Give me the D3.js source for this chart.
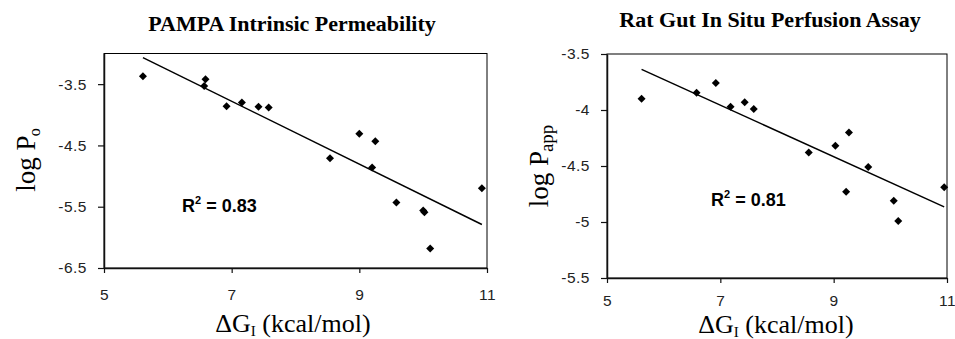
<!DOCTYPE html>
<html>
<head>
<meta charset="utf-8">
<script src="https://cdn.jsdelivr.net/npm/d3@7"></script>
<style>
  body { margin: 0; background: #fff; }
  .tick text { font-family: "Liberation Sans", Arial, sans-serif; font-size: 15.5px; fill: #222; letter-spacing: 0.5px; }
  .serif { font-family: "Liberation Serif", "Times New Roman", serif; fill: #000; }
</style>
</head>
<body>
<svg id="chart" width="955" height="339"></svg>
<script>
// PAMPA intrinsic permeability (left panel)
const pampaDG = [5.61, 6.59, 6.57, 6.92, 7.16, 7.42, 7.58, 8.54, 9.00, 9.20, 9.25, 9.58, 10.00, 10.02, 10.11, 10.92];
const pampaLogP = [-3.37, -3.42, -3.53, -3.86, -3.80, -3.87, -3.88, -4.71, -4.31, -4.86, -4.43, -5.43, -5.56, -5.59, -6.18, -5.20];

// rat gut in situ perfusion (right panel)
const ratDG = [5.61, 6.58, 6.92, 7.18, 7.43, 7.59, 8.56, 9.03, 9.22, 9.27, 9.61, 10.06, 10.14, 10.95];
const ratLogP = [-3.90, -3.845, -3.76, -3.97, -3.93, -3.99, -4.38, -4.32, -4.73, -4.20, -4.51, -4.81, -4.99, -4.69];

const xTicks = [5, 7, 9, 11];
const pampaYTicks = [-6.5, -5.5, -4.5, -3.5];
const ratYTicks = [-5.5, -5, -4.5, -4, -3.5];

const svg = d3.select("#chart");
svg.append("rect").attr("width", 955).attr("height", 339).attr("fill", "#fff");

// least squares fit, like the excel trendline
function fit(xs, ys) {
  const mx = d3.mean(xs), my = d3.mean(ys);
  const b = d3.sum(xs, (x, i) => (x - mx) * (ys[i] - my)) / d3.sum(xs, x => (x - mx) * (x - mx));
  return { b: b, a: my - b * mx };
}

function panel(opt) {
  const x = d3.scaleLinear().domain([5, 11]).range([opt.left, opt.right]);
  const y = d3.scaleLinear().domain(opt.yDomain).range([opt.bottom, opt.top]);
  const g = svg.append("g");

  // plot area border
  g.append("rect")
    .attr("x", opt.left).attr("y", opt.top)
    .attr("width", opt.right - opt.left).attr("height", opt.bottom - opt.top)
    .attr("fill", "none").attr("stroke", "#000").attr("stroke-width", 1);

  const xa = g.append("g")
    .attr("transform", `translate(0,${opt.bottom})`)
    .call(d3.axisBottom(x).tickValues(xTicks).tickSize(5).tickSizeOuter(0).tickPadding(opt.xPad).tickFormat(d => String(d)));
  const ya = g.append("g")
    .attr("transform", `translate(${opt.left},0)`)
    .call(d3.axisLeft(y).tickValues(opt.yTicks).tickSize(6).tickSizeOuter(0).tickPadding(11).tickFormat(d => String(d)));
  [xa, ya].forEach(a => {
    a.select(".domain").attr("stroke", "#111").attr("stroke-width", 1.5);
    a.selectAll(".tick line").attr("stroke", "#111").attr("stroke-width", 1.2);
  });

  // trendline across the data range
  const f = fit(opt.xs, opt.ys);
  const ext = d3.extent(opt.xs);
  g.append("path")
    .datum(ext)
    .attr("d", d3.line().x(d => x(d)).y(d => y(f.a + f.b * d)))
    .attr("fill", "none").attr("stroke", "#000").attr("stroke-width", 1.5);

  // diamonds
  const diamond = d3.symbol(d3.symbolSquare, 32);
  g.selectAll(".pt")
    .data(opt.xs.map((v, i) => [v, opt.ys[i]]))
    .enter().append("path")
    .attr("class", "pt")
    .attr("d", diamond)
    .attr("transform", d => `translate(${x(d[0])},${y(d[1])}) rotate(45)`)
    .attr("fill", "#000");

  // title
  g.append("text").attr("class", "serif")
    .attr("x", opt.titleX).attr("y", opt.titleY)
    .attr("text-anchor", "middle")
    .attr("font-size", 22).attr("font-weight", "bold")
    .text(opt.title);

  // r squared
  const r = g.append("text")
    .attr("x", opt.rX).attr("y", opt.rY)
    .attr("font-family", "Liberation Sans, Arial, sans-serif")
    .attr("font-size", 18).attr("font-weight", "bold").attr("fill", "#000");
  r.append("tspan").text("R");
  r.append("tspan").attr("font-size", 11).attr("dy", -8).text("2");
  r.append("tspan").attr("dy", 8).text(" = " + opt.r2);

  // x title
  const xt = g.append("text").attr("class", "serif")
    .attr("x", opt.xTitleX).attr("y", opt.xTitleY)
    .attr("text-anchor", "middle").attr("font-size", 26);
  xt.append("tspan").text("ΔG");
  xt.append("tspan").attr("font-size", 15).attr("dy", 4).text("I");
  xt.append("tspan").attr("dy", -4).text(" (kcal/mol)");

  // y title
  const yt = g.append("text").attr("class", "serif")
    .attr("transform", `translate(${opt.yTitleX},${opt.yTitleY}) rotate(-90)`)
    .attr("text-anchor", "middle").attr("font-size", 27);
  yt.append("tspan").text("log P");
  yt.append("tspan").attr("font-size", opt.subSize).attr("dx", -1).attr("dy", 5).text(opt.sub);
}

panel({
  xs: pampaDG, ys: pampaLogP,
  left: 104, right: 487, top: 53.5, bottom: 268,
  yDomain: [-6.5, -3], yTicks: pampaYTicks, xPad: 16,
  title: "PAMPA Intrinsic Permeability", titleX: 292, titleY: 31,
  r2: "0.83", rX: 182, rY: 212,
  xTitleX: 293, xTitleY: 332,
  yTitleX: 35, yTitleY: 160, sub: "o", subSize: 16
});

panel({
  xs: ratDG, ys: ratLogP,
  left: 607, right: 947, top: 54, bottom: 278,
  yDomain: [-5.5, -3.5], yTicks: ratYTicks, xPad: 12,
  title: "Rat Gut In Situ Perfusion Assay", titleX: 770, titleY: 27,
  r2: "0.81", rX: 711, rY: 206,
  xTitleX: 776, xTitleY: 333,
  yTitleX: 548, yTitleY: 166, sub: "app", subSize: 19
});
</script>
</body>
</html>
